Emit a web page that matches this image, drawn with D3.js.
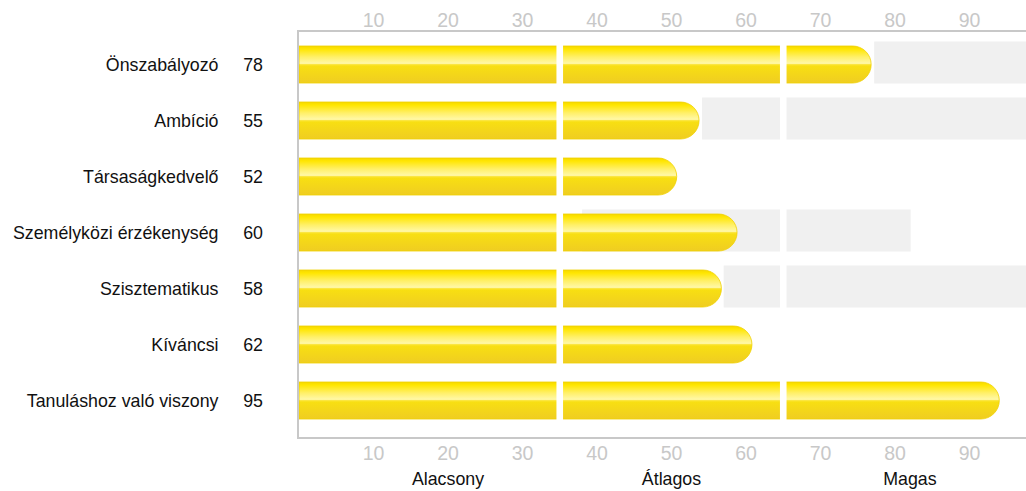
<!DOCTYPE html>
<html>
<head>
<meta charset="utf-8">
<script src="https://cdn.jsdelivr.net/npm/d3@7"></script>
<style>
  body { margin: 0; background: #fff; }
  svg { display: block; font-family: "Liberation Sans", Arial, sans-serif; }
</style>
</head>
<body>
<div id="chart"></div>
<script>
// data
const traits = ['Önszabályozó', 'Ambíció', 'Társaságkedvelő', 'Személyközi érzékenység', 'Szisztematikus', 'Kíváncsi', 'Tanuláshoz való viszony']
const scores = [78, 55, 52, 60, 58, 62, 95]
// where each yellow bar actually stops on the axis
const barValues = [76.8, 53.7, 50.7, 58.8, 56.7, 60.8, 94.0]
// grey range behind each bar (null = none)
const rangeFrom = [77.2, 54.1, null, 38, 57, null, null]
const rangeTo   = [100, 100, null, 82.1, 100, null, null]
const ticks = [10, 20, 30, 40, 50, 60, 70, 80, 90]
const zoneBreaks = [35, 65]
const zoneNames = ['Alacsony', 'Átlagos', 'Magas']
const zoneLabelAt = [20, 50, 82]

let width = 1026
let height = 491
let frame = {left: 298, top: 31, bottom: 438}
let barH = 37

let x = d3.scaleLinear().domain([0, 100]).range([299, 1044])
let y = d3.scalePoint().domain(traits).range([64.5, 400.5])

let svg = d3.select('#chart').append('svg')
  .attr('width', width)
  .attr('height', height)

let defs = svg.append('defs')
let grad = defs.append('linearGradient')
  .attr('id', 'gold')
  .attr('x1', 0).attr('y1', 0).attr('x2', 0).attr('y2', 1)
let stops = [
  [0, '#f5d800'], [0.08, '#ffe600'], [0.3, '#fff06a'], [0.47, '#fff8a8'],
  [0.5, '#fbe640'], [0.54, '#f8df12'], [1, '#efcd22']
]
grad.selectAll('stop').data(stops).join('stop')
  .attr('offset', d => d[0])
  .attr('stop-color', d => d[1])

let rows = traits.map((t, i) => ({
  name: t, score: scores[i], bar: barValues[i], from: rangeFrom[i], to: rangeTo[i]
}))

// grey ranges
svg.append('g').selectAll('rect')
  .data(rows.filter(d => d.from != null))
  .join('rect')
  .attr('x', d => x(d.from))
  .attr('y', d => y(d.name) - 23)
  .attr('width', d => Math.min(x(d.to), width) - x(d.from))
  .attr('height', 42)
  .attr('fill', '#f0f0f0')

// yellow bars, square at the left, round at the right
function barPath(d) {
  let x0 = x(0), x1 = x(d.bar), r = barH / 2
  let top = y(d.name) - r, bot = y(d.name) + r
  return `M${x0},${top}H${x1 - r}A${r},${r} 0 0 1 ${x1},${top + r}A${r},${r} 0 0 1 ${x1 - r},${bot}H${x0}Z`
}
svg.append('g').selectAll('path')
  .data(rows)
  .join('path')
  .attr('d', barPath)
  .attr('fill', 'url(#gold)')
  .attr('stroke', '#f0d000')
  .attr('stroke-width', 0.8)

// white cuts at zone breaks
let cuts = []
rows.forEach(r => zoneBreaks.forEach(b => cuts.push({name: r.name, at: b})))
svg.append('g').selectAll('rect')
  .data(cuts)
  .join('rect')
  .attr('x', d => x(d.at) - 3.3)
  .attr('y', d => y(d.name) - 24)
  .attr('width', 6.6)
  .attr('height', 46)
  .attr('fill', '#fff')

// frame
let fg = svg.append('g')
  .attr('stroke', '#c8c8c8')
  .attr('stroke-width', 2)
fg.append('line').attr('x1', frame.left).attr('x2', frame.left).attr('y1', frame.top - 1).attr('y2', frame.bottom + 1)
fg.append('line').attr('x1', frame.left).attr('x2', width).attr('y1', frame.top).attr('y2', frame.top)
fg.append('line').attr('x1', frame.left).attr('x2', width).attr('y1', frame.bottom).attr('y2', frame.bottom)

// tick labels top and bottom
let tickG = svg.append('g')
  .attr('fill', '#c8c8c8')
  .attr('font-size', '19.5px')
  .attr('text-anchor', 'middle')
tickG.selectAll('text.top').data(ticks).join('text')
  .attr('class', 'top')
  .attr('x', d => x(d))
  .attr('y', 27)
  .text(d => d)
tickG.selectAll('text.bot').data(ticks).join('text')
  .attr('class', 'bot')
  .attr('x', d => x(d))
  .attr('y', 459.5)
  .text(d => d)

// zone names
svg.append('g').selectAll('text')
  .data(zoneNames)
  .join('text')
  .attr('x', (d, i) => x(zoneLabelAt[i]))
  .attr('y', 484.5)
  .attr('text-anchor', 'middle')
  .attr('font-size', '17.8px')
  .attr('fill', '#111')
  .text(d => d)

// trait names and scores
let lab = svg.append('g')
  .attr('font-size', '17.8px')
  .attr('fill', '#111')
  .attr('text-anchor', 'end')
lab.selectAll('text.name').data(rows).join('text')
  .attr('class', 'name')
  .attr('x', 218.5)
  .attr('y', d => y(d.name) + 6.3)
  .text(d => d.name)
lab.selectAll('text.score').data(rows).join('text')
  .attr('class', 'score')
  .attr('x', 263)
  .attr('y', d => y(d.name) + 6.3)
  .text(d => d.score)
</script>
</body>
</html>
